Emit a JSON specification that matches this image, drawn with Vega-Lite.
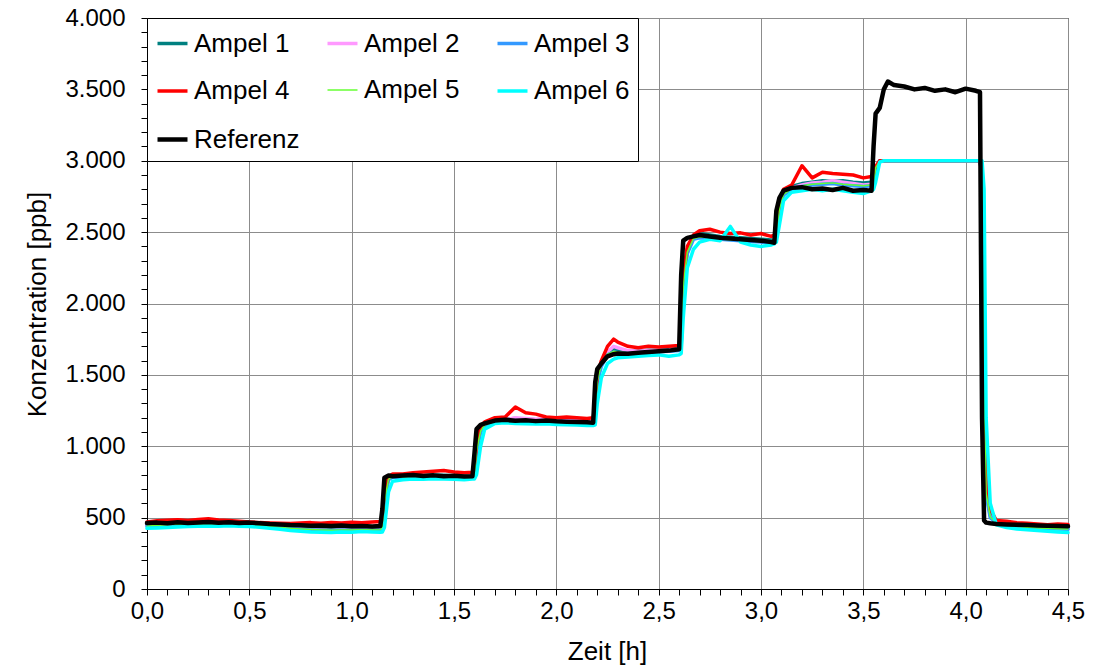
{
  "$schema": "https://vega.github.io/schema/vega-lite/v6.json",
  "width": 921,
  "height": 571,
  "autosize": {"type": "none"},
  "padding": {"left": 147, "top": 18, "right": 39, "bottom": 77},
  "background": "white",
  "data": {"values": [
    {"t":0,"Ampel 1":450,"Ampel 2":445,"Ampel 3":440,"Ampel 4":470,"Ampel 5":440,"Ampel 6":425,"Referenz":462},
    {"t":0.05,"Ampel 1":455,"Ampel 2":450,"Ampel 3":445,"Ampel 4":478,"Ampel 5":447,"Ampel 6":428,"Referenz":465},
    {"t":0.1,"Ampel 1":455,"Ampel 2":452,"Ampel 3":448,"Ampel 4":482,"Ampel 5":450,"Ampel 6":430,"Referenz":460},
    {"t":0.15,"Ampel 1":458,"Ampel 2":455,"Ampel 3":452,"Ampel 4":485,"Ampel 5":453,"Ampel 6":435,"Referenz":468},
    {"t":0.2,"Ampel 1":457,"Ampel 2":453,"Ampel 3":450,"Ampel 4":480,"Ampel 5":451,"Ampel 6":438,"Referenz":463},
    {"t":0.25,"Ampel 1":460,"Ampel 2":455,"Ampel 3":452,"Ampel 4":487,"Ampel 5":454,"Ampel 6":440,"Referenz":466},
    {"t":0.3,"Ampel 1":462,"Ampel 2":458,"Ampel 3":455,"Ampel 4":492,"Ampel 5":456,"Ampel 6":442,"Referenz":470},
    {"t":0.35,"Ampel 1":458,"Ampel 2":455,"Ampel 3":452,"Ampel 4":484,"Ampel 5":453,"Ampel 6":440,"Referenz":464},
    {"t":0.4,"Ampel 1":460,"Ampel 2":456,"Ampel 3":454,"Ampel 4":480,"Ampel 5":455,"Ampel 6":443,"Referenz":467},
    {"t":0.45,"Ampel 1":457,"Ampel 2":452,"Ampel 3":450,"Ampel 4":475,"Ampel 5":451,"Ampel 6":440,"Referenz":463},
    {"t":0.5,"Ampel 1":455,"Ampel 2":450,"Ampel 3":448,"Ampel 4":470,"Ampel 5":449,"Ampel 6":438,"Referenz":465},
    {"t":0.55,"Ampel 1":450,"Ampel 2":445,"Ampel 3":443,"Ampel 4":465,"Ampel 5":444,"Ampel 6":432,"Referenz":460},
    {"t":0.6,"Ampel 1":445,"Ampel 2":440,"Ampel 3":437,"Ampel 4":462,"Ampel 5":438,"Ampel 6":425,"Referenz":455},
    {"t":0.65,"Ampel 1":440,"Ampel 2":432,"Ampel 3":430,"Ampel 4":460,"Ampel 5":431,"Ampel 6":418,"Referenz":452},
    {"t":0.7,"Ampel 1":435,"Ampel 2":425,"Ampel 3":424,"Ampel 4":458,"Ampel 5":425,"Ampel 6":410,"Referenz":448},
    {"t":0.75,"Ampel 1":432,"Ampel 2":420,"Ampel 3":418,"Ampel 4":462,"Ampel 5":420,"Ampel 6":405,"Referenz":446},
    {"t":0.8,"Ampel 1":430,"Ampel 2":415,"Ampel 3":414,"Ampel 4":465,"Ampel 5":416,"Ampel 6":400,"Referenz":443},
    {"t":0.85,"Ampel 1":428,"Ampel 2":412,"Ampel 3":410,"Ampel 4":460,"Ampel 5":413,"Ampel 6":398,"Referenz":445},
    {"t":0.9,"Ampel 1":430,"Ampel 2":410,"Ampel 3":408,"Ampel 4":466,"Ampel 5":411,"Ampel 6":396,"Referenz":441},
    {"t":0.95,"Ampel 1":428,"Ampel 2":413,"Ampel 3":411,"Ampel 4":462,"Ampel 5":414,"Ampel 6":400,"Referenz":444},
    {"t":1.0,"Ampel 1":432,"Ampel 2":412,"Ampel 3":410,"Ampel 4":468,"Ampel 5":413,"Ampel 6":398,"Referenz":440},
    {"t":1.05,"Ampel 1":430,"Ampel 2":415,"Ampel 3":413,"Ampel 4":464,"Ampel 5":415,"Ampel 6":402,"Referenz":442},
    {"t":1.1,"Ampel 1":428,"Ampel 2":412,"Ampel 3":410,"Ampel 4":470,"Ampel 5":413,"Ampel 6":400,"Referenz":438},
    {"t":1.14,"Ampel 1":430,"Ampel 2":414,"Ampel 3":412,"Ampel 4":472,"Ampel 5":415,"Ampel 6":398,"Referenz":441},
    {"t":1.15,"Ampel 1":445,"Ampel 2":430,"Ampel 3":428,"Ampel 4":480,"Ampel 5":430,"Ampel 6":400,"Referenz":560},
    {"t":1.16,"Ampel 1":650,"Ampel 2":620,"Ampel 3":600,"Ampel 4":680,"Ampel 5":610,"Ampel 6":430,"Referenz":780},
    {"t":1.18,"Ampel 1":780,"Ampel 2":770,"Ampel 3":765,"Ampel 4":790,"Ampel 5":768,"Ampel 6":680,"Referenz":795},
    {"t":1.2,"Ampel 1":795,"Ampel 2":790,"Ampel 3":785,"Ampel 4":805,"Ampel 5":788,"Ampel 6":755,"Referenz":790},
    {"t":1.25,"Ampel 1":790,"Ampel 2":785,"Ampel 3":782,"Ampel 4":805,"Ampel 5":784,"Ampel 6":765,"Referenz":795},
    {"t":1.3,"Ampel 1":795,"Ampel 2":790,"Ampel 3":786,"Ampel 4":815,"Ampel 5":788,"Ampel 6":770,"Referenz":798},
    {"t":1.35,"Ampel 1":793,"Ampel 2":788,"Ampel 3":785,"Ampel 4":820,"Ampel 5":786,"Ampel 6":768,"Referenz":792},
    {"t":1.4,"Ampel 1":798,"Ampel 2":792,"Ampel 3":789,"Ampel 4":825,"Ampel 5":790,"Ampel 6":772,"Referenz":796},
    {"t":1.45,"Ampel 1":796,"Ampel 2":790,"Ampel 3":787,"Ampel 4":830,"Ampel 5":788,"Ampel 6":770,"Referenz":790},
    {"t":1.5,"Ampel 1":792,"Ampel 2":787,"Ampel 3":785,"Ampel 4":820,"Ampel 5":786,"Ampel 6":768,"Referenz":793},
    {"t":1.55,"Ampel 1":790,"Ampel 2":784,"Ampel 3":782,"Ampel 4":815,"Ampel 5":783,"Ampel 6":765,"Referenz":788},
    {"t":1.59,"Ampel 1":792,"Ampel 2":786,"Ampel 3":784,"Ampel 4":818,"Ampel 5":785,"Ampel 6":770,"Referenz":790},
    {"t":1.6,"Ampel 1":800,"Ampel 2":795,"Ampel 3":790,"Ampel 4":820,"Ampel 5":792,"Ampel 6":770,"Referenz":950},
    {"t":1.61,"Ampel 1":1000,"Ampel 2":980,"Ampel 3":960,"Ampel 4":1020,"Ampel 5":970,"Ampel 6":800,"Referenz":1120},
    {"t":1.63,"Ampel 1":1120,"Ampel 2":1110,"Ampel 3":1100,"Ampel 4":1140,"Ampel 5":1105,"Ampel 6":1000,"Referenz":1150},
    {"t":1.65,"Ampel 1":1160,"Ampel 2":1150,"Ampel 3":1145,"Ampel 4":1170,"Ampel 5":1148,"Ampel 6":1120,"Referenz":1160},
    {"t":1.7,"Ampel 1":1185,"Ampel 2":1180,"Ampel 3":1170,"Ampel 4":1200,"Ampel 5":1175,"Ampel 6":1160,"Referenz":1180},
    {"t":1.75,"Ampel 1":1190,"Ampel 2":1185,"Ampel 3":1175,"Ampel 4":1205,"Ampel 5":1180,"Ampel 6":1165,"Referenz":1185},
    {"t":1.8,"Ampel 1":1195,"Ampel 2":1200,"Ampel 3":1180,"Ampel 4":1275,"Ampel 5":1185,"Ampel 6":1160,"Referenz":1178},
    {"t":1.85,"Ampel 1":1190,"Ampel 2":1195,"Ampel 3":1178,"Ampel 4":1235,"Ampel 5":1180,"Ampel 6":1158,"Referenz":1182},
    {"t":1.9,"Ampel 1":1185,"Ampel 2":1190,"Ampel 3":1172,"Ampel 4":1225,"Ampel 5":1176,"Ampel 6":1155,"Referenz":1176},
    {"t":1.95,"Ampel 1":1188,"Ampel 2":1192,"Ampel 3":1175,"Ampel 4":1205,"Ampel 5":1178,"Ampel 6":1158,"Referenz":1180},
    {"t":2.0,"Ampel 1":1182,"Ampel 2":1185,"Ampel 3":1170,"Ampel 4":1200,"Ampel 5":1173,"Ampel 6":1152,"Referenz":1175},
    {"t":2.05,"Ampel 1":1180,"Ampel 2":1180,"Ampel 3":1168,"Ampel 4":1205,"Ampel 5":1170,"Ampel 6":1150,"Referenz":1172},
    {"t":2.1,"Ampel 1":1178,"Ampel 2":1178,"Ampel 3":1165,"Ampel 4":1200,"Ampel 5":1168,"Ampel 6":1148,"Referenz":1170},
    {"t":2.15,"Ampel 1":1175,"Ampel 2":1175,"Ampel 3":1162,"Ampel 4":1195,"Ampel 5":1165,"Ampel 6":1145,"Referenz":1168},
    {"t":2.18,"Ampel 1":1175,"Ampel 2":1172,"Ampel 3":1160,"Ampel 4":1200,"Ampel 5":1163,"Ampel 6":1145,"Referenz":1165},
    {"t":2.19,"Ampel 1":1250,"Ampel 2":1240,"Ampel 3":1230,"Ampel 4":1300,"Ampel 5":1240,"Ampel 6":1150,"Referenz":1450},
    {"t":2.2,"Ampel 1":1480,"Ampel 2":1470,"Ampel 3":1450,"Ampel 4":1500,"Ampel 5":1460,"Ampel 6":1300,"Referenz":1540},
    {"t":2.22,"Ampel 1":1580,"Ampel 2":1570,"Ampel 3":1560,"Ampel 4":1600,"Ampel 5":1570,"Ampel 6":1480,"Referenz":1580},
    {"t":2.25,"Ampel 1":1650,"Ampel 2":1660,"Ampel 3":1640,"Ampel 4":1700,"Ampel 5":1645,"Ampel 6":1580,"Referenz":1630},
    {"t":2.28,"Ampel 1":1680,"Ampel 2":1700,"Ampel 3":1660,"Ampel 4":1750,"Ampel 5":1665,"Ampel 6":1610,"Referenz":1645},
    {"t":2.3,"Ampel 1":1670,"Ampel 2":1690,"Ampel 3":1655,"Ampel 4":1730,"Ampel 5":1660,"Ampel 6":1620,"Referenz":1650},
    {"t":2.35,"Ampel 1":1665,"Ampel 2":1670,"Ampel 3":1650,"Ampel 4":1700,"Ampel 5":1655,"Ampel 6":1625,"Referenz":1648},
    {"t":2.4,"Ampel 1":1668,"Ampel 2":1665,"Ampel 3":1655,"Ampel 4":1690,"Ampel 5":1660,"Ampel 6":1630,"Referenz":1655},
    {"t":2.45,"Ampel 1":1672,"Ampel 2":1670,"Ampel 3":1660,"Ampel 4":1700,"Ampel 5":1664,"Ampel 6":1635,"Referenz":1660},
    {"t":2.5,"Ampel 1":1675,"Ampel 2":1672,"Ampel 3":1662,"Ampel 4":1695,"Ampel 5":1666,"Ampel 6":1640,"Referenz":1665},
    {"t":2.55,"Ampel 1":1680,"Ampel 2":1675,"Ampel 3":1665,"Ampel 4":1700,"Ampel 5":1670,"Ampel 6":1630,"Referenz":1670},
    {"t":2.6,"Ampel 1":1685,"Ampel 2":1680,"Ampel 3":1670,"Ampel 4":1705,"Ampel 5":1675,"Ampel 6":1640,"Referenz":1680},
    {"t":2.61,"Ampel 1":1720,"Ampel 2":1710,"Ampel 3":1700,"Ampel 4":1750,"Ampel 5":1700,"Ampel 6":1650,"Referenz":2200},
    {"t":2.62,"Ampel 1":2150,"Ampel 2":2130,"Ampel 3":2100,"Ampel 4":2200,"Ampel 5":2120,"Ampel 6":1900,"Referenz":2440},
    {"t":2.64,"Ampel 1":2380,"Ampel 2":2370,"Ampel 3":2350,"Ampel 4":2400,"Ampel 5":2360,"Ampel 6":2250,"Referenz":2460},
    {"t":2.67,"Ampel 1":2470,"Ampel 2":2460,"Ampel 3":2450,"Ampel 4":2480,"Ampel 5":2455,"Ampel 6":2380,"Referenz":2470},
    {"t":2.7,"Ampel 1":2490,"Ampel 2":2470,"Ampel 3":2460,"Ampel 4":2510,"Ampel 5":2465,"Ampel 6":2430,"Referenz":2480},
    {"t":2.75,"Ampel 1":2480,"Ampel 2":2465,"Ampel 3":2455,"Ampel 4":2520,"Ampel 5":2460,"Ampel 6":2450,"Referenz":2470},
    {"t":2.8,"Ampel 1":2470,"Ampel 2":2455,"Ampel 3":2450,"Ampel 4":2500,"Ampel 5":2452,"Ampel 6":2440,"Referenz":2460},
    {"t":2.85,"Ampel 1":2465,"Ampel 2":2450,"Ampel 3":2445,"Ampel 4":2490,"Ampel 5":2447,"Ampel 6":2540,"Referenz":2455},
    {"t":2.9,"Ampel 1":2460,"Ampel 2":2445,"Ampel 3":2440,"Ampel 4":2495,"Ampel 5":2442,"Ampel 6":2430,"Referenz":2450},
    {"t":2.95,"Ampel 1":2455,"Ampel 2":2440,"Ampel 3":2435,"Ampel 4":2480,"Ampel 5":2437,"Ampel 6":2410,"Referenz":2445},
    {"t":3.0,"Ampel 1":2450,"Ampel 2":2435,"Ampel 3":2430,"Ampel 4":2490,"Ampel 5":2432,"Ampel 6":2400,"Referenz":2440},
    {"t":3.05,"Ampel 1":2445,"Ampel 2":2430,"Ampel 3":2425,"Ampel 4":2470,"Ampel 5":2427,"Ampel 6":2410,"Referenz":2430},
    {"t":3.065,"Ampel 1":2440,"Ampel 2":2425,"Ampel 3":2420,"Ampel 4":2480,"Ampel 5":2422,"Ampel 6":2420,"Referenz":2425},
    {"t":3.075,"Ampel 1":2480,"Ampel 2":2470,"Ampel 3":2460,"Ampel 4":2500,"Ampel 5":2465,"Ampel 6":2430,"Referenz":2650},
    {"t":3.09,"Ampel 1":2680,"Ampel 2":2670,"Ampel 3":2650,"Ampel 4":2700,"Ampel 5":2660,"Ampel 6":2550,"Referenz":2740},
    {"t":3.11,"Ampel 1":2780,"Ampel 2":2770,"Ampel 3":2760,"Ampel 4":2800,"Ampel 5":2765,"Ampel 6":2720,"Referenz":2790},
    {"t":3.15,"Ampel 1":2820,"Ampel 2":2810,"Ampel 3":2800,"Ampel 4":2830,"Ampel 5":2805,"Ampel 6":2780,"Referenz":2810},
    {"t":3.2,"Ampel 1":2840,"Ampel 2":2830,"Ampel 3":2820,"Ampel 4":2965,"Ampel 5":2825,"Ampel 6":2790,"Referenz":2815},
    {"t":3.25,"Ampel 1":2850,"Ampel 2":2845,"Ampel 3":2830,"Ampel 4":2880,"Ampel 5":2835,"Ampel 6":2800,"Referenz":2800},
    {"t":3.3,"Ampel 1":2860,"Ampel 2":2850,"Ampel 3":2835,"Ampel 4":2920,"Ampel 5":2840,"Ampel 6":2790,"Referenz":2805},
    {"t":3.35,"Ampel 1":2855,"Ampel 2":2860,"Ampel 3":2840,"Ampel 4":2910,"Ampel 5":2845,"Ampel 6":2800,"Referenz":2795},
    {"t":3.4,"Ampel 1":2860,"Ampel 2":2850,"Ampel 3":2830,"Ampel 4":2905,"Ampel 5":2835,"Ampel 6":2790,"Referenz":2810},
    {"t":3.45,"Ampel 1":2850,"Ampel 2":2840,"Ampel 3":2825,"Ampel 4":2900,"Ampel 5":2830,"Ampel 6":2780,"Referenz":2790},
    {"t":3.5,"Ampel 1":2845,"Ampel 2":2830,"Ampel 3":2820,"Ampel 4":2880,"Ampel 5":2825,"Ampel 6":2770,"Referenz":2795},
    {"t":3.54,"Ampel 1":2850,"Ampel 2":2835,"Ampel 3":2825,"Ampel 4":2890,"Ampel 5":2830,"Ampel 6":2790,"Referenz":2790},
    {"t":3.55,"Ampel 1":2850,"Ampel 2":2840,"Ampel 3":2830,"Ampel 4":2890,"Ampel 5":2835,"Ampel 6":2800,"Referenz":3100},
    {"t":3.56,"Ampel 1":2950,"Ampel 2":2950,"Ampel 3":2950,"Ampel 4":2960,"Ampel 5":2950,"Ampel 6":2850,"Referenz":3330},
    {"t":3.58,"Ampel 1":3000,"Ampel 2":3000,"Ampel 3":3000,"Ampel 4":3000,"Ampel 5":3000,"Ampel 6":2990,"Referenz":3370},
    {"t":3.6,"Ampel 1":3000,"Ampel 2":3000,"Ampel 3":3000,"Ampel 4":3000,"Ampel 5":3000,"Ampel 6":3000,"Referenz":3500},
    {"t":3.62,"Ampel 1":3000,"Ampel 2":3000,"Ampel 3":3000,"Ampel 4":3000,"Ampel 5":3000,"Ampel 6":3000,"Referenz":3555},
    {"t":3.65,"Ampel 1":3000,"Ampel 2":3000,"Ampel 3":3000,"Ampel 4":3000,"Ampel 5":3000,"Ampel 6":3000,"Referenz":3530},
    {"t":3.7,"Ampel 1":3000,"Ampel 2":3000,"Ampel 3":3000,"Ampel 4":3000,"Ampel 5":3000,"Ampel 6":3000,"Referenz":3520},
    {"t":3.75,"Ampel 1":3000,"Ampel 2":3000,"Ampel 3":3000,"Ampel 4":3000,"Ampel 5":3000,"Ampel 6":3000,"Referenz":3500},
    {"t":3.8,"Ampel 1":3000,"Ampel 2":3000,"Ampel 3":3000,"Ampel 4":3000,"Ampel 5":3000,"Ampel 6":3000,"Referenz":3510},
    {"t":3.85,"Ampel 1":3000,"Ampel 2":3000,"Ampel 3":3000,"Ampel 4":3000,"Ampel 5":3000,"Ampel 6":3000,"Referenz":3490},
    {"t":3.9,"Ampel 1":3000,"Ampel 2":3000,"Ampel 3":3000,"Ampel 4":3000,"Ampel 5":3000,"Ampel 6":3000,"Referenz":3500},
    {"t":3.95,"Ampel 1":3000,"Ampel 2":3000,"Ampel 3":3000,"Ampel 4":3000,"Ampel 5":3000,"Ampel 6":3000,"Referenz":3480},
    {"t":4.0,"Ampel 1":3000,"Ampel 2":3000,"Ampel 3":3000,"Ampel 4":3000,"Ampel 5":3000,"Ampel 6":3000,"Referenz":3505},
    {"t":4.05,"Ampel 1":3000,"Ampel 2":3000,"Ampel 3":3000,"Ampel 4":3000,"Ampel 5":3000,"Ampel 6":3000,"Referenz":3490},
    {"t":4.07,"Ampel 1":3000,"Ampel 2":3000,"Ampel 3":3000,"Ampel 4":3000,"Ampel 5":3000,"Ampel 6":3000,"Referenz":3480},
    {"t":4.08,"Ampel 1":2900,"Ampel 2":2900,"Ampel 3":2900,"Ampel 4":2900,"Ampel 5":2900,"Ampel 6":3000,"Referenz":1200},
    {"t":4.09,"Ampel 1":1500,"Ampel 2":1450,"Ampel 3":1400,"Ampel 4":1600,"Ampel 5":1420,"Ampel 6":2800,"Referenz":480},
    {"t":4.1,"Ampel 1":700,"Ampel 2":680,"Ampel 3":660,"Ampel 4":750,"Ampel 5":670,"Ampel 6":1200,"Referenz":465},
    {"t":4.12,"Ampel 1":520,"Ampel 2":510,"Ampel 3":500,"Ampel 4":560,"Ampel 5":505,"Ampel 6":600,"Referenz":460},
    {"t":4.15,"Ampel 1":470,"Ampel 2":465,"Ampel 3":460,"Ampel 4":480,"Ampel 5":462,"Ampel 6":450,"Referenz":455},
    {"t":4.2,"Ampel 1":455,"Ampel 2":450,"Ampel 3":445,"Ampel 4":475,"Ampel 5":448,"Ampel 6":430,"Referenz":452},
    {"t":4.25,"Ampel 1":445,"Ampel 2":440,"Ampel 3":435,"Ampel 4":465,"Ampel 5":438,"Ampel 6":420,"Referenz":450},
    {"t":4.3,"Ampel 1":440,"Ampel 2":435,"Ampel 3":430,"Ampel 4":460,"Ampel 5":432,"Ampel 6":415,"Referenz":448},
    {"t":4.35,"Ampel 1":435,"Ampel 2":430,"Ampel 3":425,"Ampel 4":455,"Ampel 5":428,"Ampel 6":410,"Referenz":445},
    {"t":4.4,"Ampel 1":432,"Ampel 2":428,"Ampel 3":422,"Ampel 4":450,"Ampel 5":425,"Ampel 6":405,"Referenz":443},
    {"t":4.45,"Ampel 1":430,"Ampel 2":425,"Ampel 3":420,"Ampel 4":455,"Ampel 5":422,"Ampel 6":400,"Referenz":442},
    {"t":4.5,"Ampel 1":428,"Ampel 2":422,"Ampel 3":418,"Ampel 4":452,"Ampel 5":420,"Ampel 6":395,"Referenz":440}
  ]},
  "transform": [
    {"fold": ["Ampel 1","Ampel 2","Ampel 3","Ampel 4","Ampel 5","Ampel 6","Referenz"], "as": ["Serie","Wert"]}
  ],
  "encoding": {
    "x": {
      "field": "t", "type": "quantitative",
      "scale": {"domain": [0, 4.5], "nice": false, "zero": false},
      "axis": {
        "title": "Zeit [h]",
        "values": [0,0.1,0.2,0.3,0.4,0.5,0.6,0.7,0.8,0.9,1,1.1,1.2,1.3,1.4,1.5,1.6,1.7,1.8,1.9,2,2.1,2.2,2.3,2.4,2.5,2.6,2.7,2.8,2.9,3,3.1,3.2,3.3,3.4,3.5,3.6,3.7,3.8,3.9,4,4.1,4.2,4.3,4.4,4.5],
        "labelExpr": "abs(datum.value*2 - round(datum.value*2)) < 0.001 ? replace(format(datum.value, '.1f'), '.', ',') : ''",
        "gridOpacity": {"condition": {"test": "abs(datum.value*2 - round(datum.value*2)) < 0.001", "value": 1}, "value": 0},
        "labelOverlap": false,
        "labelFlush": false,
        "labelPadding": 4,
        "titleX": 460,
        "titleY": 62,
        "titleBaseline": "middle",
        "titleAnchor": "middle"
      }
    },
    "y": {
      "field": "Wert", "type": "quantitative",
      "scale": {"domain": [0, 4000], "nice": false},
      "axis": {
        "title": "Konzentration [ppb]",
        "values": [0,100,200,300,400,500,600,700,800,900,1000,1100,1200,1300,1400,1500,1600,1700,1800,1900,2000,2100,2200,2300,2400,2500,2600,2700,2800,2900,3000,3100,3200,3300,3400,3500,3600,3700,3800,3900,4000],
        "labelExpr": "datum.value % 500 == 0 ? replace(format(datum.value, ','), ',', '.') : ''",
        "gridOpacity": {"condition": {"test": "datum.value % 500 == 0", "value": 1}, "value": 0},
        "labelOverlap": false,
        "labelFlush": false,
        "labelPadding": 16,
        "titleAngle": -90,
        "titleX": -110,
        "titleY": 286,
        "titleBaseline": "middle",
        "titleAnchor": "middle"
      }
    },
    "color": {
      "field": "Serie", "type": "nominal",
      "scale": {
        "domain": ["Ampel 1","Ampel 2","Ampel 3","Ampel 4","Ampel 5","Ampel 6","Referenz"],
        "range": ["#008080","#ff99ff","#3399ff","#ff0000","#66ff33","#00ffff","#000000"]
      },
      "legend": {
        "title": null,
        "orient": "none",
        "legendX": 0,
        "legendY": 0,
        "columns": 3,
        "direction": "horizontal",
        "gridAlign": "all",
        "columnPadding": 20,
        "rowPadding": 17,
        "padding": 8,
        "fillColor": "white",
        "strokeColor": "black",
        "symbolType": "stroke",
        "symbolSize": 900,
        "symbolStrokeWidth": 4,
        "labelFontSize": 26,
        "labelOffset": 4,
        "labelLimit": 300,
        "labelColor": "black"
      }
    },
    "strokeWidth": {
      "field": "Serie", "type": "nominal",
      "scale": {
        "type": "ordinal",
        "domain": ["Ampel 1","Ampel 2","Ampel 3","Ampel 4","Ampel 5","Ampel 6","Referenz"],
        "range": [3.5,3.5,3.5,3.5,1.5,3.5,4.5]
      },
      "legend": {
        "title": null,
        "orient": "none",
        "legendX": 0,
        "legendY": 0,
        "columns": 3,
        "direction": "horizontal",
        "gridAlign": "all",
        "columnPadding": 20,
        "rowPadding": 17,
        "padding": 8,
        "fillColor": "white",
        "strokeColor": "black",
        "symbolType": "stroke",
        "symbolSize": 900,
        "labelFontSize": 26,
        "labelOffset": 4,
        "labelLimit": 300,
        "labelColor": "black"
      }
    }
  },
  "layer": [
    {
      "transform": [{"filter": "datum.Serie != 'Referenz'"}],
      "mark": {"type": "line", "strokeJoin": "round", "strokeCap": "round"}
    },
    {
      "transform": [{"filter": "datum.Serie == 'Referenz'"}],
      "mark": {"type": "line", "strokeJoin": "round", "strokeCap": "round"}
    }
  ],
  "config": {
    "font": "Liberation Sans",
    "view": {"stroke": "black", "strokeWidth": 1},
    "axis": {
      "domainColor": "black",
      "tickColor": "black",
      "tickSize": 6,
      "labelColor": "black",
      "titleColor": "black",
      "gridColor": "#8c8c8c",
      "gridWidth": 1,
      "labelFontSize": 24,
      "titleFontSize": 26,
      "titleFontWeight": "normal"
    }
  }
}
